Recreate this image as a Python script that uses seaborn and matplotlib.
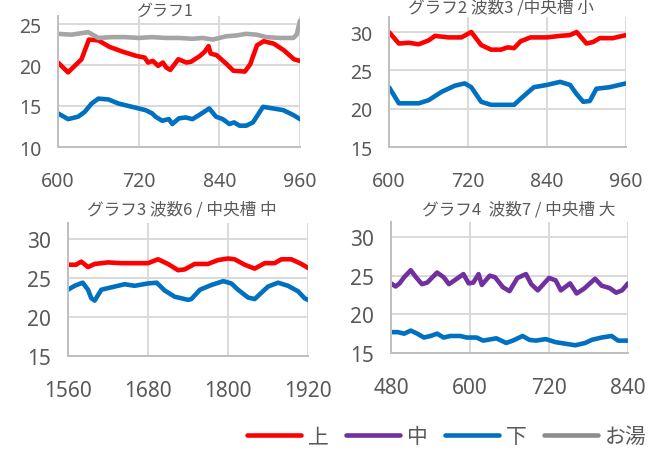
import pandas as pd
import matplotlib
matplotlib.use('Agg')
import matplotlib.pyplot as plt
import seaborn as sns
from matplotlib.lines import Line2D

# --- values ---
# グラフ1
g1_top_x = [600, 615, 635, 646, 660, 677, 697, 717, 729, 734, 741, 749, 756, 761, 767, 779, 791, 798,
            811, 818, 824, 827, 836, 851, 861, 878, 886, 896, 906, 921, 936, 951, 960]
g1_top_y = [20.3, 19.1, 20.7, 23.1, 23.0, 22.2, 21.6, 21.1, 20.9, 20.3, 20.5, 19.9, 20.3, 19.7, 19.4, 20.7, 20.3, 20.4,
            21.1, 21.6, 22.3, 21.4, 21.2, 20.1, 19.3, 19.2, 20.1, 22.4, 22.9, 22.6, 21.8, 20.7, 20.5]
g1_bot_x = [600, 615, 630, 640, 650, 660, 675, 690, 710, 730, 740, 745, 755, 765, 770, 780, 790, 800,
            810, 825, 835, 845, 855, 862, 870, 880, 890, 905, 920, 935, 950, 960]
g1_bot_y = [14.1, 13.4, 13.7, 14.3, 15.3, 15.9, 15.8, 15.3, 14.9, 14.5, 14.1, 13.7, 13.2, 13.4, 12.8, 13.5, 13.6, 13.4,
            13.9, 14.7, 13.7, 13.4, 12.8, 13.0, 12.6, 12.6, 13.0, 14.9, 14.7, 14.5, 13.9, 13.4]
g1_hot_x = [600, 620, 645, 660, 680, 700, 720, 740, 760, 780, 800, 815, 830, 850, 865, 880, 895, 910, 930, 950, 955, 960]
g1_hot_y = [23.8, 23.7, 24.0, 23.3, 23.4, 23.4, 23.3, 23.4, 23.3, 23.3, 23.2, 23.3, 23.1, 23.5, 23.6, 23.8, 23.7, 23.4,
            23.3, 23.3, 23.7, 25.4]

# グラフ2
g2_top_x = [600, 615, 630, 645, 660, 670, 690, 710, 725, 740, 755, 770, 780, 790, 800, 815, 840, 860, 875,
            885, 900, 910, 920, 940, 960]
g2_top_y = [30.0, 28.5, 28.6, 28.4, 28.9, 29.5, 29.3, 29.3, 30.0, 28.3, 27.7, 27.7, 28.0, 27.9, 28.8, 29.3, 29.3,
            29.5, 29.6, 30.0, 28.5, 28.7, 29.2, 29.2, 29.6]
g2_bot_x = [600, 615, 630, 645, 660, 680, 700, 715, 725, 740, 755, 770, 790, 800, 820, 840, 860, 875, 885,
            895, 905, 915, 935, 960]
g2_bot_y = [22.8, 20.7, 20.7, 20.7, 21.1, 22.2, 23.0, 23.3, 22.8, 20.9, 20.5, 20.5, 20.5, 21.3, 22.8, 23.1, 23.5,
            23.1, 21.9, 20.9, 21.0, 22.6, 22.8, 23.3]

# グラフ3
g3_top_x = [1560, 1572, 1580, 1590, 1600, 1620, 1640, 1660, 1680, 1695, 1710, 1725, 1735, 1750, 1770, 1785,
            1800, 1810, 1825, 1840, 1855, 1870, 1880, 1895, 1910, 1920]
g3_top_y = [26.7, 26.7, 27.1, 26.4, 26.8, 27.0, 26.9, 26.9, 26.9, 27.4, 26.8, 26.0, 26.1, 26.8, 26.8, 27.3,
            27.5, 27.4, 26.7, 26.2, 26.9, 26.9, 27.4, 27.4, 26.8, 26.3]
g3_bot_x = [1560, 1570, 1582, 1590, 1595, 1600, 1610, 1625, 1645, 1660, 1680, 1693, 1705, 1720, 1740, 1745,
            1758, 1775, 1793, 1805, 1815, 1830, 1840, 1850, 1860, 1875, 1890, 1905, 1915, 1920]
g3_bot_y = [23.5, 24.0, 24.4, 23.5, 22.4, 22.1, 23.5, 23.8, 24.2, 24.0, 24.3, 24.4, 23.4, 22.6, 22.2, 22.3,
            23.5, 24.1, 24.6, 24.3, 23.5, 22.5, 22.3, 23.1, 23.9, 24.4, 24.0, 23.3, 22.4, 22.2]

# グラフ4
g4_mid_x = [480, 487, 493, 500, 510, 518, 527, 535, 550, 560, 568, 575, 590, 598, 605, 613, 618, 630, 638,
            650, 660, 672, 685, 693, 703, 720, 730, 738, 752, 762, 773, 790, 800, 812, 822, 831, 840]
g4_mid_y = [24.0, 23.6, 24.0, 24.8, 25.7, 24.8, 23.9, 24.1, 25.4, 24.8, 23.9, 24.3, 25.2, 24.0, 24.1, 25.2,
            23.8, 25.0, 24.8, 23.5, 23.0, 24.7, 25.2, 23.9, 23.1, 24.7, 24.4, 23.1, 24.0, 22.7, 23.3, 24.6,
            23.7, 23.4, 22.8, 23.1, 24.0]
g4_bot_x = [480, 490, 500, 510, 520, 530, 540, 550, 560, 570, 585, 595, 610, 620, 640, 655, 665, 680, 690,
            700, 715, 730, 745, 760, 775, 785, 800, 815, 825, 840]
g4_bot_y = [17.7, 17.7, 17.5, 17.9, 17.5, 17.0, 17.2, 17.5, 17.0, 17.2, 17.2, 17.0, 17.0, 16.6, 16.9, 16.3,
            16.6, 17.2, 16.7, 16.6, 16.8, 16.4, 16.2, 16.0, 16.3, 16.7, 17.0, 17.2, 16.6, 16.6]

labels = ['上', '中', '下', 'お湯']
colors = {'上': '#ff0000', '中': '#7030a0', '下': '#0070c0', 'お湯': '#a5a5a5'}


def make_df(series):
    parts = []
    for name, xs, ys in series:
        parts.append(pd.DataFrame({'時間': xs, '温度': ys, '位置': name}))
    return pd.concat(parts, ignore_index=True)


panels = [
    dict(title='グラフ1', title_xy=(164, 11), tfs=11.5,
         df=make_df([('上', g1_top_x, g1_top_y), ('下', g1_bot_x, g1_bot_y), ('お湯', g1_hot_x, g1_hot_y)]),
         xticks=[600, 720, 840, 960], ylim=(10, 26), yticks=[10, 15, 20, 25],
         rect=(58, 300, 148, 16.8), fs=14),
    dict(title='グラフ2 波数3 /中央槽 小', title_xy=(501, 8), tfs=12,
         df=make_df([('上', g2_top_x, g2_top_y), ('下', g2_bot_x, g2_bot_y)]),
         xticks=[600, 720, 840, 960], ylim=(15, 32), yticks=[15, 20, 25, 30],
         rect=(389, 626, 148, 17.7), fs=14),
    dict(title='グラフ3 波数6 / 中央槽 中', title_xy=(182, 210), tfs=12,
         df=make_df([('上', g3_top_x, g3_top_y), ('下', g3_bot_x, g3_bot_y)]),
         xticks=[1560, 1680, 1800, 1920], ylim=(15, 32), yticks=[15, 20, 25, 30],
         rect=(68, 308, 357, 224.4), fs=15),
    dict(title='グラフ4  波数7 / 中央槽 大', title_xy=(519, 210), tfs=12,
         df=make_df([('中', g4_mid_x, g4_mid_y), ('下', g4_bot_x, g4_bot_y)]),
         xticks=[480, 600, 720, 840], ylim=(15, 32), yticks=[15, 20, 25, 30],
         rect=(391, 628, 354, 222.5), fs=15),
]

sns.set_theme(style='white')
plt.rcParams['font.family'] = ['Noto Sans CJK JP', 'DejaVu Sans']

W, H = 658, 452
fig = plt.figure(figsize=(W / 100, H / 100), dpi=100)

for p in panels:
    l, r, b, t = p['rect']
    ax = fig.add_axes([l / W, 1 - b / H, (r - l) / W, (b - t) / H])
    sns.lineplot(data=p['df'], x='時間', y='温度', hue='位置', palette=colors,
                 linewidth=3.3, legend=False, ax=ax, sort=True)
    ax.set_xlim(p['xticks'][0], p['xticks'][-1])
    ax.set_ylim(*p['ylim'])
    ax.set_xticks(p['xticks'])
    ax.set_yticks(p['yticks'])
    ax.set_xlabel('')
    ax.set_ylabel('')
    ax.grid(True, color='#d9d9d9', linewidth=1.4)
    ax.set_axisbelow(True)
    for s in ['top', 'right']:
        ax.spines[s].set_visible(False)
    for s in ['left', 'bottom']:
        ax.spines[s].set_color('#bfbfbf')
        ax.spines[s].set_linewidth(1.4)
    ax.tick_params(axis='both', length=0, labelsize=p['fs'], labelcolor='#595959')
    ax.tick_params(axis='x', pad=17)
    ax.tick_params(axis='y', pad=12)
    for lab in ax.get_xticklabels() + ax.get_yticklabels():
        lab.set_family(['Noto Sans', 'DejaVu Sans'])
    fig.text(p['title_xy'][0] / W, 1 - p['title_xy'][1] / H, p['title'],
             ha='center', va='center', fontsize=p['tfs'], color='#595959')

handles = [Line2D([], [], color=colors[k], linewidth=3.3) for k in labels]
handles[3].set_color('#8c8c8c')
fig.legend(handles, labels, loc='center', bbox_to_anchor=(447 / W, 1 - 437 / H), ncol=4,
           frameon=False, fontsize=15, handlelength=2.6, handletextpad=0.35, columnspacing=0.8,
           labelcolor='#595959')

fig.savefig('out.png', dpi=100)
